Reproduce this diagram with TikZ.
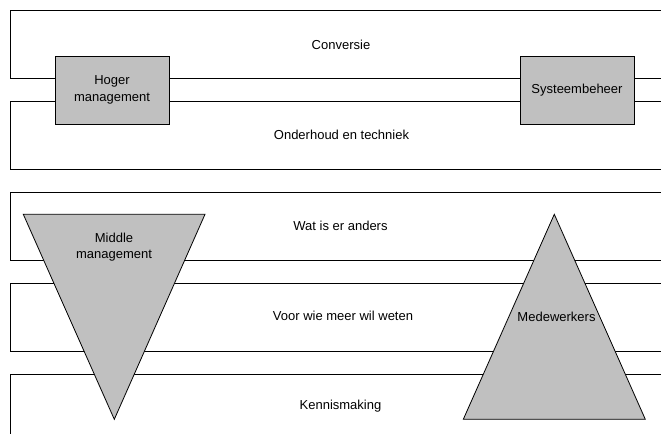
\documentclass[tikz,border=0pt]{standalone}
\usepackage{fontspec}
\setmainfont{Liberation Sans}
\begin{document}
\begin{tikzpicture}[x=1pt,y=-1pt,
  band/.style={draw=black,line width=0.8pt},
  grayfill/.style={draw=black,line width=0.8pt,fill=graybox},
  lbl/.style={font=\fontsize{13}{16.3}\selectfont,align=center,inner sep=0pt},
  box/.style={grayfill,minimum width=114pt,minimum height=68pt,inner sep=0pt,font=\fontsize{13}{16.3}\selectfont,align=center}]
\definecolor{graybox}{HTML}{C0C0C0}
\useasboundingbox (0,0) rectangle (661,434);
% bands (open on the right)
\draw[band] (661,10.5) -- (10.5,10.5) -- (10.5,78.5) -- (661,78.5);
\draw[band] (661,101.5) -- (10.5,101.5) -- (10.5,169.5) -- (661,169.5);
\draw[band] (661,192) -- (10.5,192) -- (10.5,260) -- (661,260);
\draw[band] (661,283) -- (10.5,283) -- (10.5,351) -- (661,351);
\draw[band] (661,374) -- (10.5,374) -- (10.5,434);
% band labels
\node[lbl] (conv) at (341,45) {Conversie};
\node[lbl] (onder) at (341.5,135) {Onderhoud en techniek};
\node[lbl] (wat) at (340.5,226) {Wat is er anders};
\node[lbl] (voor) at (343,316) {Voor wie meer wil weten};
\node[lbl] (kennis) at (340.5,406.5) {Kennismaking};
% boxes
\node[box] (hoger) at (112,90) {Hoger\\management};
\node[box] (sys) at (577,90) {Systeembeheer};
% triangles
\draw[grayfill,line join=miter] (23.3,214.3) -- (205,214.3) -- (114.3,419.3) -- cycle;
\draw[grayfill,line join=miter] (554.3,214.3) -- (645.3,419.3) -- (463.3,419.3) -- cycle;
\node[lbl] (middle) at (114,247) {Middle\\management};
\node[lbl] (mede) at (556.5,317) {Medewerkers};
\end{tikzpicture}
\end{document}
